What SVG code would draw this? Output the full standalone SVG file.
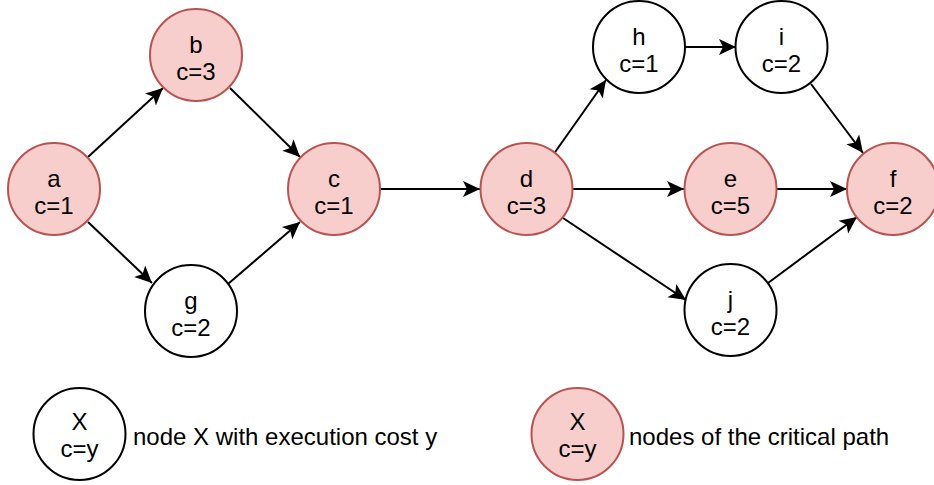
<svg xmlns="http://www.w3.org/2000/svg" width="934" height="485" viewBox="0 0 934 485">
<defs>
<style>
.n circle{stroke-width:2}
.w circle{fill:#ffffff;stroke:#000000}
.p circle{fill:#f8cecc;stroke:#b85450}
text{font-family:"Liberation Sans",Arial,sans-serif;font-size:24px;fill:#000;text-anchor:middle}
.lg{text-anchor:start}
#edges line{stroke:#000;stroke-width:2;fill:none;marker-end:url(#ah)}
</style>
<marker id="ah" markerUnits="userSpaceOnUse" markerWidth="20" markerHeight="18" refX="17" refY="8" orient="auto" overflow="visible">
<path d="M0,0 L17,8 L0,16 L4,8 Z" fill="#000"/>
</marker>
</defs>
<rect width="934" height="485" fill="#fff"/>
<g id="edges">
<line x1="88" y1="157" x2="163" y2="88"/>
<line x1="230" y1="88" x2="300" y2="157"/>
<line x1="88" y1="222" x2="152" y2="283"/>
<line x1="228" y1="284" x2="300" y2="222"/>
<line x1="380" y1="189" x2="480" y2="189"/>
<line x1="553" y1="155" x2="606" y2="80"/>
<line x1="685" y1="47" x2="736" y2="47"/>
<line x1="811" y1="84" x2="863" y2="153"/>
<line x1="573" y1="189" x2="684" y2="189"/>
<line x1="777" y1="189" x2="847" y2="189"/>
<line x1="563" y1="218" x2="686" y2="300"/>
<line x1="768" y1="283" x2="857" y2="217"/>
</g>
<g id="node-a" class="n p"><circle cx="54" cy="189" r="46"/><text x="54" y="187">a</text><text x="54" y="214">c=1</text></g>
<g id="node-b" class="n p"><circle cx="196" cy="55" r="46"/><text x="196" y="53">b</text><text x="196" y="80">c=3</text></g>
<g id="node-c" class="n p"><circle cx="334" cy="189" r="46"/><text x="334" y="187">c</text><text x="334" y="214">c=1</text></g>
<g id="node-g" class="n w"><circle cx="191" cy="311" r="46"/><text x="191" y="309">g</text><text x="191" y="336">c=2</text></g>
<g id="node-d" class="n p"><circle cx="526.5" cy="189" r="46"/><text x="526.5" y="187">d</text><text x="526.5" y="214">c=3</text></g>
<g id="node-h" class="n w"><circle cx="639" cy="47" r="46"/><text x="639" y="45">h</text><text x="639" y="72">c=1</text></g>
<g id="node-i" class="n w"><circle cx="781.5" cy="47" r="46"/><text x="781.5" y="45">i</text><text x="781.5" y="72">c=2</text></g>
<g id="node-e" class="n p"><circle cx="730.5" cy="189" r="46"/><text x="730.5" y="187">e</text><text x="730.5" y="214">c=5</text></g>
<g id="node-f" class="n p"><circle cx="893" cy="189" r="46"/><text x="893" y="187">f</text><text x="893" y="214">c=2</text></g>
<g id="node-j" class="n w"><circle cx="730.5" cy="310" r="46"/><text x="730.5" y="308">j</text><text x="730.5" y="335">c=2</text></g>
<g id="legend-normal" class="n w"><circle cx="79.5" cy="434" r="46"/><text x="79.5" y="430">X</text><text x="79.5" y="457">c=y</text></g>
<text class="lg" x="133" y="445">node X with execution cost y</text>
<g id="legend-critical" class="n p"><circle cx="577.5" cy="434" r="46"/><text x="577.5" y="430">X</text><text x="577.5" y="457">c=y</text></g>
<text class="lg" x="629" y="445">nodes of the critical path</text>
</svg>
